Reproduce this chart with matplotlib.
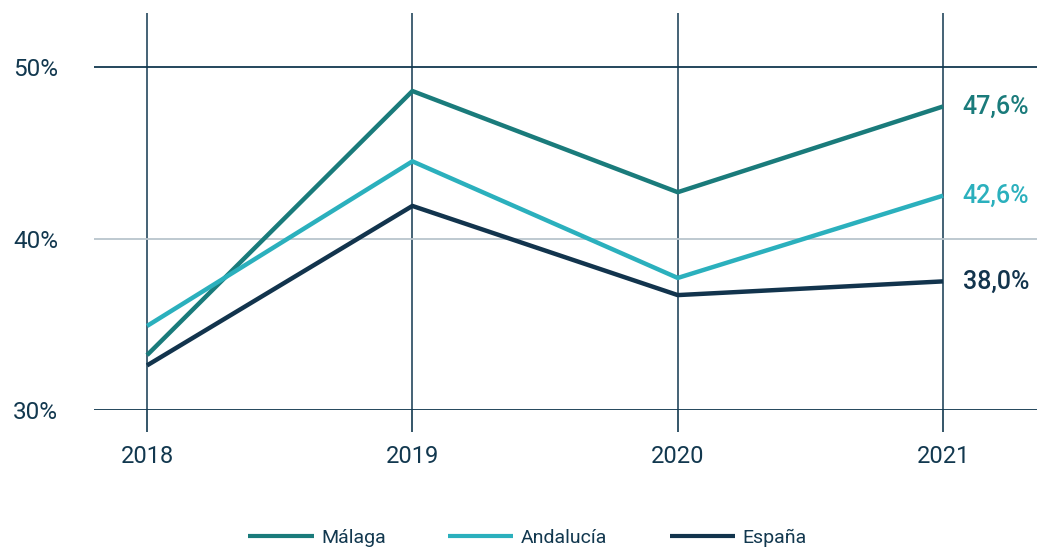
import matplotlib
matplotlib.use("Agg")
import matplotlib.pyplot as plt

years = [2018, 2019, 2020, 2021]
malaga = [33.2, 48.6, 42.7, 47.7]
andalucia = [34.9, 44.5, 37.7, 42.5]
espana = [32.6, 41.9, 36.7, 37.5]
series_names = ["Málaga", "Andalucía", "España"]
end_labels = ["47,6%", "42,6%", "38,0%"]
colors = ["#1a7b7b", "#2bb0bd", "#12344d"]
yticks = [30, 40, 50]

plt.rcParams['font.family'] = ['Roboto', 'DejaVu Sans']

dark = "#12384f"
fig = plt.figure(figsize=(10.45, 5.49), dpi=100)
ax = fig.add_axes([94/1045, 1 - 410/549, (1037 - 94)/1045, (410 - 13)/549])

for s in ax.spines.values():
    s.set_visible(False)

ax.set_xlim(2017.8, 2021.354)
ax.set_ylim(30, 53.15)

# vertical grid lines + ticks below axis
ax.set_xticks(years)
ax.set_xticklabels([str(y) for y in years], fontsize=17, color=dark)
ax.tick_params(axis='x', length=16, width=1.2, color=dark, pad=9, direction='out')
for x in years:
    ax.axvline(x, color=dark, lw=1.1, zorder=1)

ax.set_yticks(yticks)
ax.set_yticklabels(["%d%%" % v for v in yticks], fontsize=17.5, color=dark)
ax.tick_params(axis='y', length=0, pad=26)
for v in yticks:
    c = "#b9c5cd" if v == 40 else dark
    ax.axhline(v, color=c, lw=1.3, zorder=1)

for vals, name, lab, c in zip([malaga, andalucia, espana], series_names,
                              end_labels, colors):
    ax.plot(years, vals, color=c, lw=3.2, label=name, zorder=3,
            solid_capstyle='butt')
    ax.annotate(lab, (years[-1], vals[-1]),
                xytext=(14, 0), textcoords='offset points',
                ha='left', va='center', fontsize=18, color=c,
                fontweight='medium', annotation_clip=False)

leg = fig.legend(loc='center', bbox_to_anchor=(0.505, 11/549), ncol=3,
                 frameon=False, fontsize=14, handlelength=3.35,
                 columnspacing=3.2, handletextpad=0.4)
for t in leg.get_texts():
    t.set_color(dark)
for h in leg.legend_handles:
    h.set_linewidth(3)

fig.savefig("out.png", dpi=100)
